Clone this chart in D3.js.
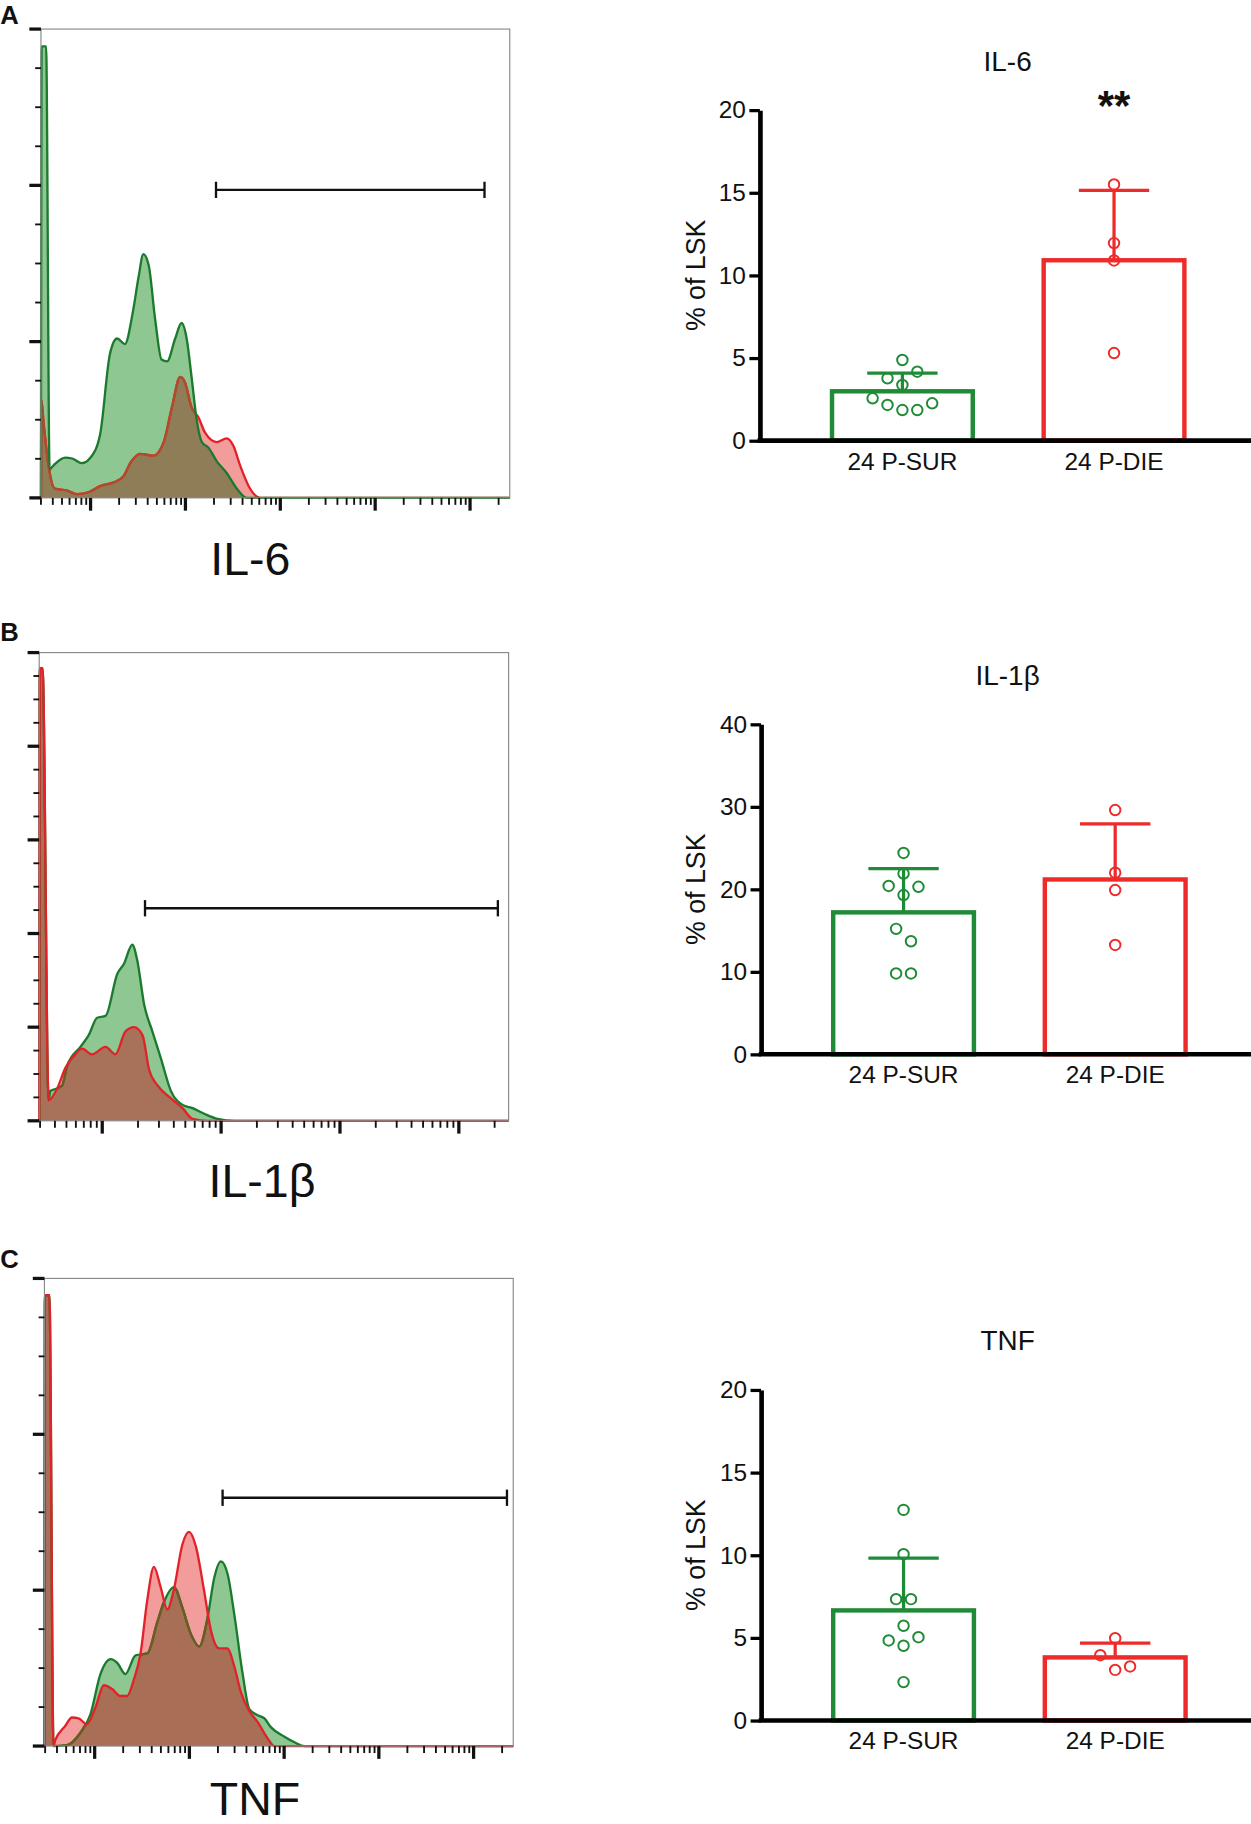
<!DOCTYPE html>
<html>
<head>
<meta charset="utf-8">
<script src="https://cdn.jsdelivr.net/npm/d3@7"></script>
<style>
  body { margin: 0; background: #fff; }
  text { font-family: "Liberation Sans", Arial, Helvetica, sans-serif; fill: #111; }
</style>
</head>
<body>
<svg id="fig"></svg>
<script>
// ---- data ----
const groups = ['24 P-SUR', '24 P-DIE'];

// flow histograms: [intensity, % of max]
const il6Range = [3, 262144];
const il6Sur = [[3, 0], [3.05, 96.3], [3.4, 96.3], [3.7, 6.1], [4.1, 7], [5.4, 8.6], [6.4, 8.4], [8.1, 7.4], [10, 8.6],
  [12.6, 13.5], [16, 30.7], [19, 34], [23, 32.8], [28, 39.8], [32, 47], [36, 52], [41, 49.6], [48, 38], [56, 29.5],
  [64, 29.1], [78, 34], [91, 37.3], [103, 34], [116, 25.8], [131, 16.8], [149, 11.9], [175, 10.7], [214, 7.8],
  [272, 5.3], [347, 2], [442, 0], [262144, 0]];
const il6Die = [[3, 0], [3.03, 20.9], [3.2, 16], [3.6, 7], [4.2, 2], [5.6, 1.6], [7.2, 0.8], [9.5, 1.2], [12.6, 2.5],
  [17.5, 3.3], [22, 4.5], [27, 7.8], [33, 9.4], [46, 9], [59, 11.9], [72, 19.3], [88, 25.8], [99, 24.6], [116, 19.3],
  [137, 17.2], [161, 13.9], [214, 11.9], [272, 12.7], [320, 11.1], [376, 7], [479, 2], [611, 0], [262144, 0]];
const il6Gate = [210, 142000, 65.7];

const il1bRange = [29.5, 262144];
const il1bSur = [[29.5, 0], [29.8, 96.7], [31.5, 96.7], [35.4, 4.4], [36.6, 6.4], [40.3, 6.8], [45.9, 7.5], [50.6, 11.7],
  [65.5, 15.8], [77, 18.3], [90.6, 22], [106.6, 22.4], [134, 31.4], [152, 33.5], [179, 37.6], [197, 34.3], [225, 24.9],
  [264, 19.1], [311, 13.4], [378, 6.4], [474, 3.4], [576, 2.7], [722, 1.5], [935, 0.4], [1294, 0], [262144, 0]];
const il1bDie = [[29.5, 0], [29.8, 96.7], [31.5, 96.7], [35.4, 4.4], [41.6, 6.8], [49, 11.3], [57.6, 13.8], [67.7, 15.4],
  [82, 14.2], [106.6, 15.8], [129, 14.2], [157, 19.1], [185, 20], [218, 18.3], [248, 10.9], [291, 7.6], [378, 4.8],
  [474, 2.7], [576, 0.4], [771, 0], [262144, 0]];
const il1bGate = [229, 213000, 45.4];

const tnfRange = [2.95, 262144];
const tnfSur = [[2.95, 0], [2.98, 96.4], [3.33, 96.4], [3.68, 0], [5.09, 0.2], [7.04, 2.8], [9, 6.7], [11.5, 15.4],
  [14.7, 18.6], [17.3, 17.8], [21.1, 15.4], [27, 19.4], [35.9, 19.8], [45.8, 26.5], [53.9, 30.8], [68.7, 34],
  [84.3, 29.6], [103, 24.1], [127, 21.3], [155, 27.3], [183, 36], [215, 39.5], [253, 36.8], [298, 28.1], [365, 15.4],
  [429, 7.9], [526, 6.6], [619, 5.9], [728, 4], [1009, 2], [1288, 0.8], [1643, 0], [262144, 0]];
const tnfDie = [[2.95, 0], [2.98, 96.4], [3.33, 96.4], [3.68, 0], [3.83, 1.2], [4.89, 4.3], [5.75, 6.1], [6.77, 5.9],
  [8.3, 4.7], [10.2, 8.3], [12.5, 13], [15.3, 12.2], [18.7, 10.7], [22, 10.7], [25.9, 14.2], [30.5, 19.8], [35.9, 31.2],
  [42.2, 38.3], [49.7, 34], [58.5, 29.2], [68.7, 33.6], [84.3, 43.1], [99.1, 45.8], [117, 42.7], [143, 33.2],
  [168, 24.9], [206, 20.9], [253, 20.9], [298, 17], [350, 11.5], [429, 7.5], [526, 5.1], [672, 1.6], [790, 0], [262144, 0]];
const tnfGate = [224, 225000, 53.1];

// % of LSK, one value per mouse
const il6SurPct = [2.56, 2.16, 1.85, 1.85, 2.26, 3.77, 3.37, 4.17, 4.88];
const il6DiePct = [15.5, 11.95, 10.9, 5.3];
const il1bSurPct = [24.4, 21.9, 20.4, 19.3, 20.3, 15.2, 13.7, 9.8, 9.8];
const il1bDiePct = [29.6, 22.0, 19.9, 13.25];
const tnfSurPct = [12.74, 10.06, 7.34, 7.34, 5.73, 4.84, 4.52, 5.04, 2.32];
const tnfDiePct = [4.98, 3.95, 3.06, 3.27];

const il6Ticks = [0, 5, 10, 15, 20];
const il1bTicks = [0, 10, 20, 30, 40];
const tnfTicks = [0, 5, 10, 15, 20];
const il6Sig = ['', '**'];

// ---- drawing ----
const W = 1075, H = 1568;
const svg = d3.select('#fig')
  .attr('width', 1251).attr('height', 1824)
  .attr('viewBox', `0 0 ${W} ${H}`);
const defs = svg.append('defs');

const col = {
  sur: {fill: '#8ec792', line: '#1b7a2d', bar: '#1f8b37'},
  die: {fill: '#f39c9c', line: '#e2222a', bar: '#ee2b2b'}
};

const histPanels = [
  {id: 'a', letter: 'A', letterY: 21, label: 'IL-6', labelX: 215, labelY: 494,
    frame: {x0: 35, x1: 438, y0: 25, y1: 428}, range: il6Range, sur: il6Sur, die: il6Die, gate: il6Gate,
    yMajor: 3, top: 'sur', overlap: '#8f7d57', muted: '#b04b2b'},
  {id: 'b', letter: 'B', letterY: 551, label: 'IL-1β', labelX: 225, labelY: 1029,
    frame: {x0: 33.5, x1: 437, y0: 561, y1: 963.5}, range: il1bRange, sur: il1bSur, die: il1bDie, gate: il1bGate,
    yMajor: 5, top: 'die', overlap: '#a8725a', muted: '#6e5b24'},
  {id: 'c', letter: 'C', letterY: 1090, label: 'TNF', labelX: 219, labelY: 1560,
    frame: {x0: 38, x1: 441, y0: 1099, y1: 1501}, range: tnfRange, sur: tnfSur, die: tnfDie, gate: tnfGate,
    yMajor: 3, top: 'die', overlap: '#a86e56', muted: '#6e5b24'}
];

const barPanels = [
  {title: 'IL-6', axisX: 653, y0: 378.8, yTop: 94.6, titleY: 60.8, ticks: il6Ticks,
    sets: [il6SurPct, il6DiePct], sig: il6Sig},
  {title: 'IL-1β', axisX: 654, y0: 906.3, yTop: 622.6, titleY: 589, ticks: il1bTicks,
    sets: [il1bSurPct, il1bDiePct], sig: null},
  {title: 'TNF', axisX: 654, y0: 1479, yTop: 1194.8, titleY: 1160.5, ticks: tnfTicks,
    sets: [tnfSurPct, tnfDiePct], sig: null}
];

function drawHist(p) {
  const g = svg.append('g').attr('class', 'hist_' + p.id);
  const f = p.frame;
  const x = d3.scaleLog().domain(p.range).range([f.x0, f.x1]);
  const y = d3.scaleLinear().domain([0, 100]).range([f.y1, f.y0]);

  const area = d3.area()
    .x(d => x(d[0]))
    .y0(y(0))
    .y1(d => y(d[1]))
    .curve(d3.curveMonotoneX);
  const line = d3.line()
    .x(d => x(d[0]))
    .y(d => y(d[1]))
    .curve(d3.curveMonotoneX);

  const topKey = p.top, botKey = p.top === 'sur' ? 'die' : 'sur';
  const topData = p[topKey], botData = p[botKey];

  defs.append('clipPath').attr('id', 'clip_top_' + p.id)
    .append('path').attr('d', area(topData));

  g.append('rect')
    .attr('x', f.x0).attr('y', f.y0)
    .attr('width', f.x1 - f.x0).attr('height', f.y1 - f.y0)
    .style('fill', '#fff');

  g.append('path').attr('d', area(botData)).style('fill', col[botKey].fill);
  g.append('path').attr('d', area(topData)).style('fill', col[topKey].fill);
  // where both populations overlap
  g.append('path').attr('d', area(botData))
    .attr('clip-path', `url(#clip_top_${p.id})`)
    .style('fill', p.overlap);

  g.append('path').attr('d', line(botData))
    .style('fill', 'none').style('stroke', col[botKey].line).style('stroke-width', 2);
  g.append('path').attr('d', line(botData))
    .attr('clip-path', `url(#clip_top_${p.id})`)
    .style('fill', 'none').style('stroke', p.muted).style('stroke-width', 2);
  g.append('path').attr('d', line(topData))
    .style('fill', 'none').style('stroke', col[topKey].line).style('stroke-width', 2);

  // positive gate
  const [gx0, gx1, gy] = p.gate;
  g.append('line')
    .attr('x1', x(gx0)).attr('x2', x(gx1)).attr('y1', y(gy)).attr('y2', y(gy))
    .style('stroke', '#111').style('stroke-width', 2);
  [gx0, gx1].forEach(v => {
    g.append('line')
      .attr('x1', x(v)).attr('x2', x(v)).attr('y1', y(gy) - 7).attr('y2', y(gy) + 7)
      .style('stroke', '#111').style('stroke-width', 2);
  });

  // frame
  g.append('rect')
    .attr('x', f.x0).attr('y', f.y0)
    .attr('width', f.x1 - f.x0).attr('height', f.y1 - f.y0)
    .style('fill', 'none').style('stroke', '#8a8a8a').style('stroke-width', 1);

  // log ticks on the x axis
  const xTicks = [];
  const k0 = Math.floor(Math.log10(p.range[0])), k1 = Math.ceil(Math.log10(p.range[1]));
  for (let k = k0; k <= k1; k++) {
    for (let m = 1; m <= 9; m++) {
      const v = m * Math.pow(10, k);
      if (v >= p.range[0] * 0.999 && v <= p.range[1]) xTicks.push({v: v, major: m === 1});
    }
  }
  g.selectAll('.xtick').data(xTicks).enter().append('line')
    .attr('class', 'xtick')
    .attr('x1', d => x(d.v)).attr('x2', d => x(d.v))
    .attr('y1', f.y1).attr('y2', d => f.y1 + (d.major ? 11 : 6))
    .style('stroke', '#111').style('stroke-width', d => d.major ? 2.8 : 1.6);

  // y ticks: majors with three minors between
  const yTicks = d3.range(0, p.yMajor * 4 + 1).map(i => ({v: 100 * i / (p.yMajor * 4), major: i % 4 === 0}));
  g.selectAll('.ytick').data(yTicks).enter().append('line')
    .attr('class', 'ytick')
    .attr('x1', d => f.x0 - (d.major ? 10 : 5)).attr('x2', f.x0)
    .attr('y1', d => y(d.v)).attr('y2', d => y(d.v))
    .style('stroke', '#111').style('stroke-width', d => d.major ? 2.8 : 1.6);

  g.append('text')
    .text(p.label)
    .attr('x', p.labelX).attr('y', p.labelY)
    .attr('text-anchor', 'middle')
    .style('font-size', '40px');

  svg.append('text')
    .text(p.letter)
    .attr('x', 0).attr('y', p.letterY)
    .style('font-size', '22px').style('font-weight', 'bold');
}

// rows of points that are close in value are spread side by side
function spreadDots(values, yScale, cx) {
  const idx = d3.range(values.length).sort((a, b) => values[a] - values[b]);
  const rows = [];
  idx.forEach(i => {
    const row = rows[rows.length - 1];
    if (row && Math.abs(yScale(values[i]) - yScale(values[row[0]])) < 13.5) row.push(i);
    else rows.push([i]);
  });
  const out = [];
  rows.forEach(row => {
    row.sort((a, b) => a - b);
    row.forEach((i, j) => out.push({v: values[i], x: cx + (j - (row.length - 1) / 2) * 12.8, y: yScale(values[i])}));
  });
  return out;
}

function drawBars(p) {
  const g = svg.append('g').attr('class', 'bars_' + p.title);
  const y = d3.scaleLinear().domain([0, d3.max(p.ticks)]).range([p.y0, p.yTop]);
  const x = d3.scaleBand().domain(groups)
    .range([p.axisX, p.axisX + 427])
    .paddingInner(0.335).paddingOuter(0.341);
  const keys = ['sur', 'die'];

  p.sets.forEach((vals, i) => {
    const c = col[keys[i]].bar;
    const mean = d3.mean(vals), sd = d3.deviation(vals);
    const cx = x(groups[i]) + x.bandwidth() / 2;

    g.append('rect')
      .attr('x', x(groups[i])).attr('y', y(mean))
      .attr('width', x.bandwidth()).attr('height', y(0) - y(mean))
      .style('fill', 'none').style('stroke', c).style('stroke-width', 3.8);

    g.append('line')
      .attr('x1', cx).attr('x2', cx).attr('y1', y(mean)).attr('y2', y(mean + sd))
      .style('stroke', c).style('stroke-width', 2.8);
    g.append('line')
      .attr('x1', cx - x.bandwidth() / 4).attr('x2', cx + x.bandwidth() / 4)
      .attr('y1', y(mean + sd)).attr('y2', y(mean + sd))
      .style('stroke', c).style('stroke-width', 2.8);

    g.selectAll('.dot_' + keys[i]).data(spreadDots(vals, y, cx)).enter().append('circle')
      .attr('class', 'dot_' + keys[i])
      .attr('cx', d => d.x).attr('cy', d => d.y).attr('r', 4.5)
      .style('fill', 'none').style('stroke', c).style('stroke-width', 1.7);

    if (p.sig && p.sig[i]) {
      g.append('text')
        .text(p.sig[i])
        .attr('x', cx).attr('y', 103)
        .attr('text-anchor', 'middle')
        .style('font-size', '36px').style('font-weight', 'bold');
    }
  });

  const yAxis = g.append('g')
    .attr('transform', `translate(${p.axisX},0)`)
    .call(d3.axisLeft(y).tickValues(p.ticks).tickFormat(d3.format('d')).tickSize(9).tickSizeOuter(0).tickPadding(3));
  yAxis.select('.domain').style('stroke', '#000').style('stroke-width', 4);
  yAxis.selectAll('.tick line').style('stroke', '#000').style('stroke-width', 2.8);
  yAxis.selectAll('.tick text')
    .style('font-size', '21px').style('font-family', '"Liberation Sans", Arial, sans-serif').style('fill', '#111');

  const xAxis = g.append('g')
    .attr('transform', `translate(0,${p.y0})`)
    .call(d3.axisBottom(x).tickSize(0).tickSizeOuter(0).tickPadding(10));
  xAxis.select('.domain').style('stroke', '#000').style('stroke-width', 4)
    .attr('d', `M${p.axisX - 2},0H${W + 10}`);
  xAxis.selectAll('.tick text')
    .style('font-size', '21px').style('font-family', '"Liberation Sans", Arial, sans-serif').style('fill', '#111');

  g.append('text')
    .text(p.title)
    .attr('x', 866).attr('y', p.titleY)
    .attr('text-anchor', 'middle')
    .style('font-size', '24px');

  const midY = (p.y0 + p.yTop) / 2;
  g.append('text')
    .text('% of LSK')
    .attr('transform', `translate(606,${midY}) rotate(-90)`)
    .attr('text-anchor', 'middle')
    .style('font-size', '23px');
}

histPanels.forEach(drawHist);
barPanels.forEach(drawBars);
</script>
</body>
</html>
